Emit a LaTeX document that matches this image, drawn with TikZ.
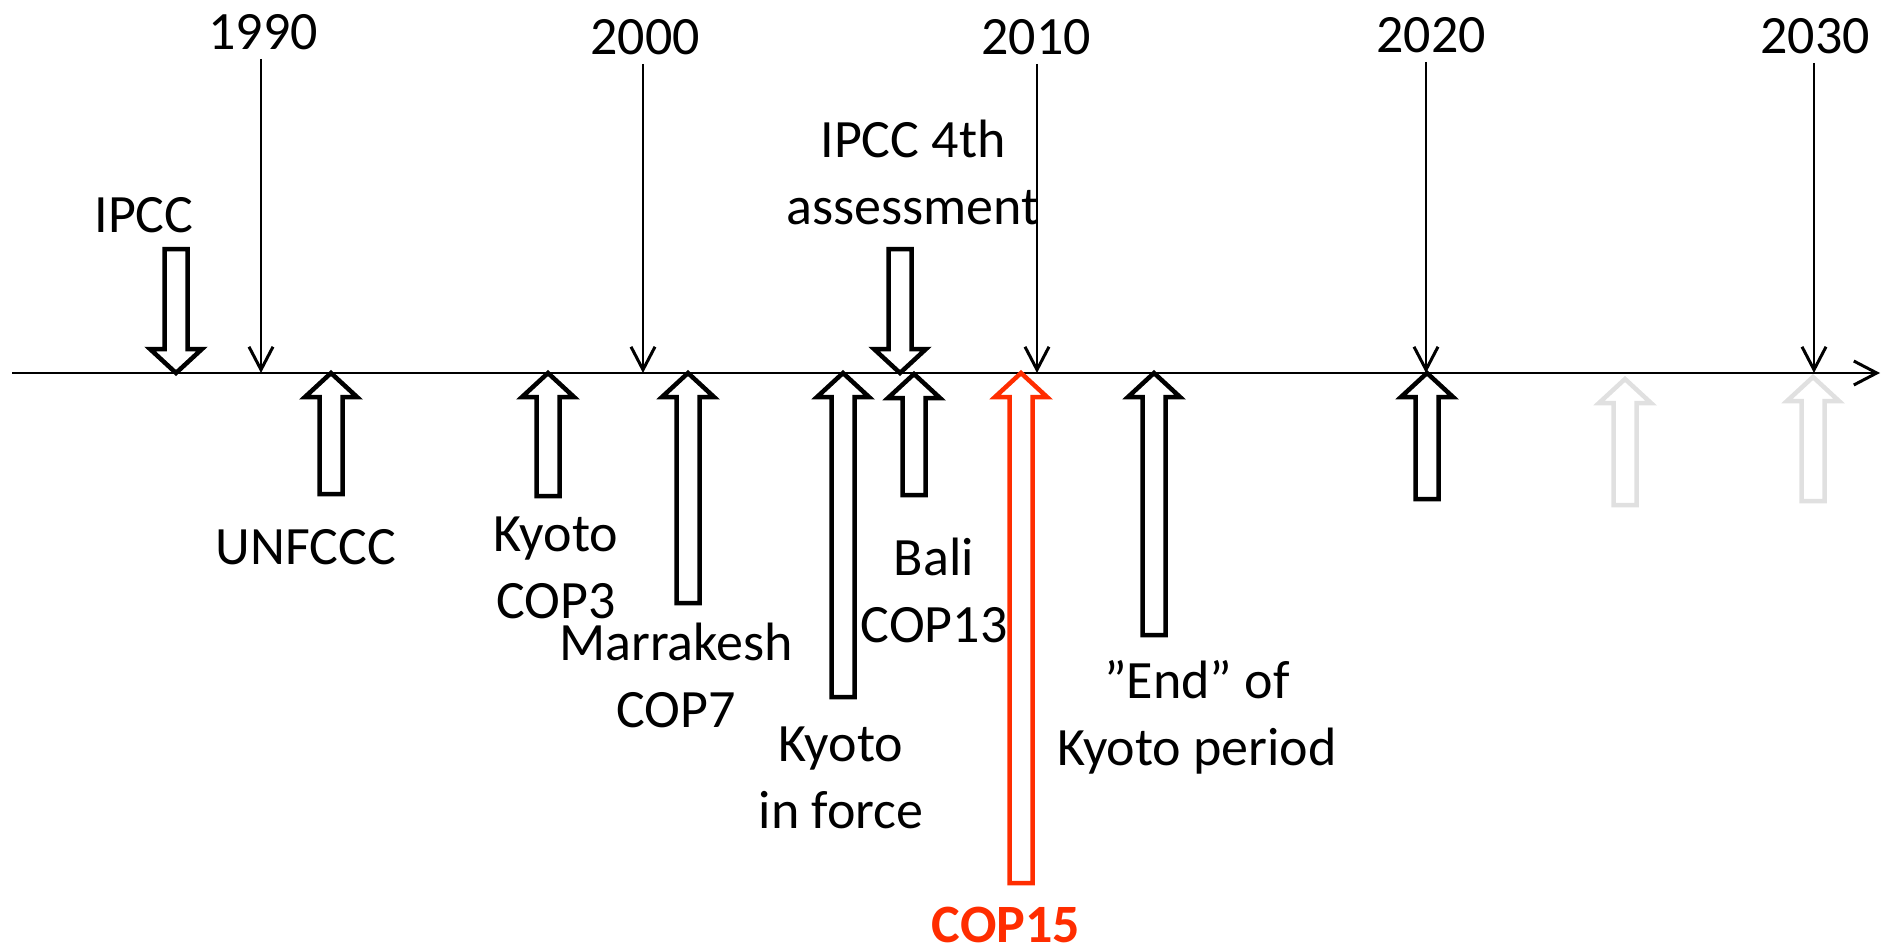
\documentclass[tikz,border=0pt]{standalone}
\usepackage{fontspec}
\setmainfont{Carlito}
\usetikzlibrary{arrows.meta}

\definecolor{copred}{RGB}{255,45,0}
\definecolor{latergray}{RGB}{224,224,224}

\tikzset{
  barb/.style={-{Straight Barb[length=11.5pt,width=12pt,line width=1.5pt]}},
  axisline/.style={line width=1.2pt, barb},
  yearline/.style={line width=1pt, barb},
  year/.style={anchor=base, inner sep=4pt},
  event/.style={anchor=base, align=center, inner sep=0pt},
  block/.style={line width=2.25pt}
}

% open block arrows: [colour]{x}{tip y}{bottom y} and {x}{top y}{tip y}
\newcommand{\eventup}[4][black]{%
  \draw[block,#1] (#2,#3) -- ({#2+26},{#3+24}) -- ({#2+11.5},{#3+24})
    -- ({#2+11.5},#4) -- ({#2-11.5},#4) -- ({#2-11.5},{#3+24})
    -- ({#2-26},{#3+24}) -- cycle;}
\newcommand{\eventdown}[3]{%
  \draw[block] (#1,#3) -- ({#1+26},{#3-24}) -- ({#1+11.5},{#3-24})
    -- ({#1+11.5},#2) -- ({#1-11.5},#2) -- ({#1-11.5},{#3-24})
    -- ({#1-26},{#3-24}) -- cycle;}

\begin{document}
\begin{tikzpicture}[x=0.5pt, y=-0.5pt, font=\fontsize{27pt}{33.5pt}\selectfont]
\useasboundingbox (0,0) rectangle (1881,947);

% time axis
\coordinate (axstart) at (12,373);
\coordinate (axend) at (1880,373);
\draw[axisline] (axstart) -- (axend);

% decades
\foreach \yr/\x/\lx/\b in {1990/261/263/50, 2000/643/645/55, 2010/1037/1036/55,
                           2020/1426/1431/53, 2030/1814/1815/54} {
  \node[year] (y\yr) at (\lx,\b) {\yr};
  \coordinate (a\yr) at (\x,373);
  \draw[yearline] (y\yr.south -| a\yr) -- (a\yr);
}

% events above the axis
\node[event] (ipcc) at (144,233) {IPCC};
\node[event] (ar4) at (913,225) {IPCC 4th\\assessment};
\eventdown{176}{249}{373}
\eventdown{900}{249}{373}

% events below the axis
\eventup{331}{373}{494}
\eventup{548}{373}{496}
\eventup{688}{373}{603}
\eventup{843}{373}{697}
\eventup{914}{374}{495}
\eventup[copred]{1021}{373}{883}
\eventup{1154}{373}{635}
\eventup{1427}{373}{499}
\eventup[latergray]{1625}{379}{505}
\eventup[latergray]{1813}{377}{501}

\node[event] (unfccc) at (306,564) {UNFCCC};
\node[event] (kyoto) at (556,618) {Kyoto\\COP3};
\node[event] (marrakesh) at (676,727) {Marrakesh\\COP7};
\node[event] (inforce) at (841,828) {Kyoto\\in force};
\node[event] (bali) at (934,642) {Bali\\COP13};
\node[event] (endkyoto) at (1197,765) {”End” of\\Kyoto period};
\node[event, text=copred] (cop15) at (1006,942) {\bfseries COP15};
\end{tikzpicture}
\end{document}
